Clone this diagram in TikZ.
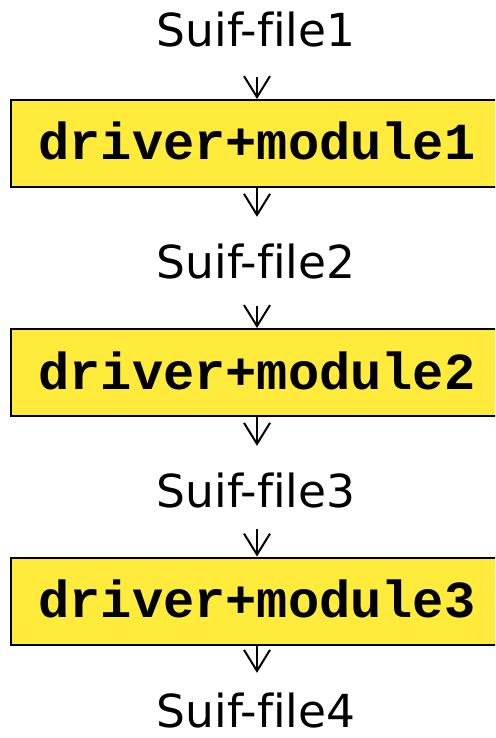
\documentclass[tikz,border=0pt]{standalone}
\usepackage{fontspec}
\usetikzlibrary{arrows.meta}
\newfontfamily\filefont[Ligatures={NoCommon,NoRare}]{DejaVu Sans}
\newfontfamily\codefont{Liberation Mono}
\definecolor{boxyellow}{RGB}{255,235,60}
\tikzset{
  filelabel/.style={font=\filefont\fontsize{45.5}{45.5}\selectfont, inner sep=0pt,
    text height=33pt, text depth=0pt, anchor=base},
  modbox/.style={draw=black, line width=2pt, fill=boxyellow,
    font=\codefont\bfseries\fontsize{52}{52}\selectfont,
    minimum width=492pt, minimum height=87pt, inner sep=0pt,
    text height=33pt, text depth=0pt},
  flow/.style={draw=black, line width=2pt,
    -{Straight Barb[length=21pt,width=26pt,line width=2pt]}}
}
\begin{document}
\begin{tikzpicture}[x=1pt,y=1pt]
  \useasboundingbox (0,0) rectangle (495,-738);
  \clip (0,0) rectangle (495,-738);

  % files and processing stages
  \node[filelabel] (f1) at (256,-47) {Suif-file1};
  \node[modbox] (b1) at (257,-143.5) {driver+module1};
  \node[filelabel] (f2) at (256,-278) {Suif-file2};
  \node[modbox] (b2) at (257,-372.5) {driver+module2};
  \node[filelabel] (f3) at (256,-507) {Suif-file3};
  \node[modbox] (b3) at (257,-601) {driver+module3};
  \node[filelabel] (f4) at (256,-727) {Suif-file4};

  % flow arrows
  \draw[flow, shorten <=30pt] (f1.south -| b1.north) -- (b1.north);
  \draw[flow, shorten >=28pt] (b1.south) -- (b1.south |- f2.north);
  \draw[flow, shorten <=28pt] (f2.south -| b2.north) -- (b2.north);
  \draw[flow, shorten >=28pt] (b2.south) -- (b2.south |- f3.north);
  \draw[flow, shorten <=22pt] (f3.south -| b3.north) -- (b3.north);
  \draw[flow, shorten >=21pt] (b3.south) -- (b3.south |- f4.north);
\end{tikzpicture}
\end{document}
